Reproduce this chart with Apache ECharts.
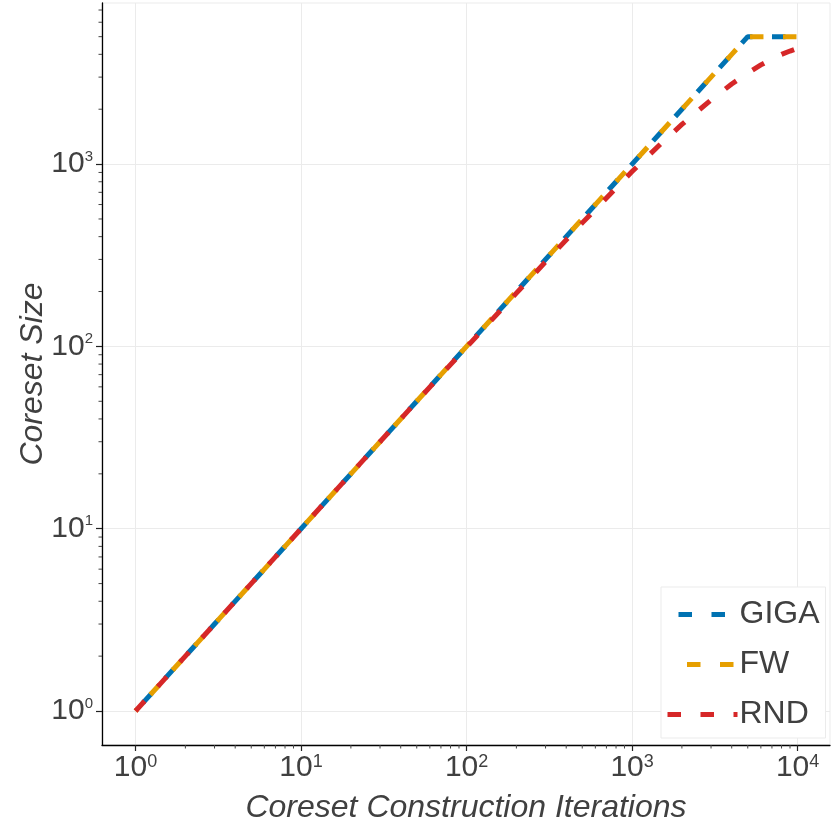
<!DOCTYPE html>
<html>
<head>
<meta charset="utf-8">
<script src="https://cdn.jsdelivr.net/npm/echarts@6/dist/echarts.min.js"></script>
<style>
html,body{margin:0;padding:0;background:#fff;}
#chart{width:833px;height:833px;}
</style>
</head>
<body>
<div id="chart"></div>
<script>
// ---- data ----
const iterations = [1, 2, 3, 5, 10, 20, 30, 50, 100, 200, 300, 500, 700, 1000, 1500, 2000, 3000, 4000, 5000, 6000, 7000, 8000, 9000, 10000];
const gigaSize   = [1, 2, 3, 5, 10, 20, 30, 50, 100, 200, 300, 500, 700, 1000, 1500, 2000, 3000, 4000, 5000, 5000, 5000, 5000, 5000, 5000];
const fwSize     = [1, 2, 3, 5, 10, 20, 30, 50, 100, 200, 300, 500, 700, 1000, 1500, 2000, 3000, 4000, 5000, 5000, 5000, 5000, 5000, 5000];
const rndSize    = [1, 2, 3, 5, 10, 20, 30, 50, 99, 196, 291, 476, 652, 910, 1300, 1650, 2250, 2750, 3160, 3500, 3770, 4000, 4170, 4320];
const seriesNames = ['GIGA', 'FW', 'RND'];
const seriesColors = ['#0072B2', '#E69F00', '#D62728'];
const xMajorTicks = [1, 10, 100, 1000, 10000];
const yMajorTicks = [1, 10, 100, 1000];
const xMinorTicks = [2,3,4,5,6,7,8,9, 20,30,40,50,60,70,80,90, 200,300,400,500,600,700,800,900, 2000,3000,4000,5000,6000,7000,8000,9000];
const yMinorTicks = [2,3,4,5,6,7,8,9, 20,30,40,50,60,70,80,90, 200,300,400,500,600,700,800,900, 2000,3000,4000,5000,6000,7000];
const X_MIN = 0.627, X_MAX = 15700, Y_MIN = 0.651, Y_MAX = 7650;

const FONT = 'Liberation Sans, Arial, sans-serif';
const TXT = '#404040';
const DASH = [13.5, 19.5];
const DASH_OFFSETS = [22, 11, 0];
const LEGEND_DASH_OFFSETS = [22, 13.5, 0];

function isPow10(v) {
  const l = Math.log10(v);
  return Math.abs(l - Math.round(l)) < 1e-6;
}
function expLabel(v) {
  if (!isPow10(v)) return '';
  return '{b|10}{s|' + Math.round(Math.log10(v)) + '}';
}

const chart = echarts.init(document.getElementById('chart'), null, {renderer: 'canvas'});

function lineSeries(name, data, color, offset) {
  return {
    name: name,
    type: 'line',
    data: iterations.map((x, i) => [x, data[i]]),
    symbol: 'none',
    showSymbol: false,
    z: 3,
    lineStyle: {color: color, width: 5, type: DASH, dashOffset: offset, cap: 'butt'},
    itemStyle: {color: color},
    emphasis: {disabled: true},
    animation: false
  };
}

function minorTickSeries(values, isX) {
  return {
    type: 'custom',
    silent: true,
    clip: false,
    z: 5,
    animation: false,
    data: values.map(v => isX ? [v, Y_MIN] : [X_MIN, v]),
    encode: {x: 0, y: 1},
    renderItem: function (params, api) {
      const p = api.coord([api.value(0), api.value(1)]);
      return {
        type: 'line',
        shape: isX ? {x1: p[0], y1: p[1], x2: p[0], y2: p[1] + 3.5}
                   : {x1: p[0], y1: p[1], x2: p[0] - 3.5, y2: p[1]},
        style: {stroke: '#444', lineWidth: 1}
      };
    }
  };
}

const axisCommon = {
  type: 'log',
  logBase: 10,
  splitNumber: 4,
  axisLine: {show: true, lineStyle: {color: '#000', width: 1.3}},
  splitLine: {show: true, lineStyle: {color: '#ebebeb', width: 1}},
  minorTick: {show: false},
  nameLocation: 'middle',
  nameTextStyle: {fontSize: 32, fontStyle: 'italic', color: TXT, fontFamily: FONT}
};

const option = {
  backgroundColor: '#fff',
  animation: false,
  grid: {left: 102, right: 3, top: 3, bottom: 88, containLabel: false,
         show: true, borderColor: '#ebebeb', borderWidth: 1, backgroundColor: 'transparent'},
  xAxis: Object.assign({}, axisCommon, {
    min: X_MIN, max: X_MAX,
    name: 'Coreset Construction Iterations',
    nameGap: 47,
    axisTick: {show: true, length: 6, lineStyle: {color: '#222', width: 1.2}, customValues: xMajorTicks},
    axisLabel: {
      margin: 8,
      customValues: xMajorTicks,
      formatter: expLabel,
      rich: {
        b: {fontSize: 30, lineHeight: 30, color: TXT, fontFamily: FONT, verticalAlign: 'middle'},
        s: {fontSize: 18, lineHeight: 18, color: TXT, fontFamily: FONT, verticalAlign: 'top'}
      }
    }
  }),
  yAxis: Object.assign({}, axisCommon, {
    min: Y_MIN, max: Y_MAX,
    name: 'Coreset Size',
    nameGap: 53,
    nameMoveOverlap: false,
    axisTick: {show: true, length: 6, lineStyle: {color: '#222', width: 1.2}, customValues: yMajorTicks},
    axisLabel: {
      margin: 9,
      customValues: yMajorTicks,
      formatter: expLabel,
      rich: {
        b: {fontSize: 30, lineHeight: 30, color: TXT, fontFamily: FONT, verticalAlign: 'middle'},
        s: {fontSize: 15, lineHeight: 23, color: TXT, fontFamily: FONT, verticalAlign: 'top'}
      }
    }
  }),
  legend: {
    data: seriesNames.map((n, i) => ({
      name: n,
      itemStyle: {opacity: 0},
      lineStyle: {color: seriesColors[i], width: 5, type: DASH, dashOffset: LEGEND_DASH_OFFSETS[i], cap: 'butt', opacity: 1}
    })),
    orient: 'vertical',
    left: 661,
    top: 587,
    padding: [10, 6, 6, 4],
    itemWidth: 70,
    itemHeight: 14,
    itemGap: 15,
    backgroundColor: '#fff',
    borderColor: '#ebebeb',
    borderWidth: 1,
    borderRadius: 0,
    selectedMode: false,
    textStyle: {fontSize: 32, lineHeight: 35, color: TXT, fontFamily: FONT, padding: [0, 0, 0, -3]}
  },
  series: [
    lineSeries(seriesNames[0], gigaSize, seriesColors[0], DASH_OFFSETS[0]),
    lineSeries(seriesNames[1], fwSize, seriesColors[1], DASH_OFFSETS[1]),
    lineSeries(seriesNames[2], rndSize, seriesColors[2], DASH_OFFSETS[2]),
    minorTickSeries(xMinorTicks, true),
    minorTickSeries(yMinorTicks, false)
  ]
};

chart.setOption(option);
</script>
</body>
</html>
